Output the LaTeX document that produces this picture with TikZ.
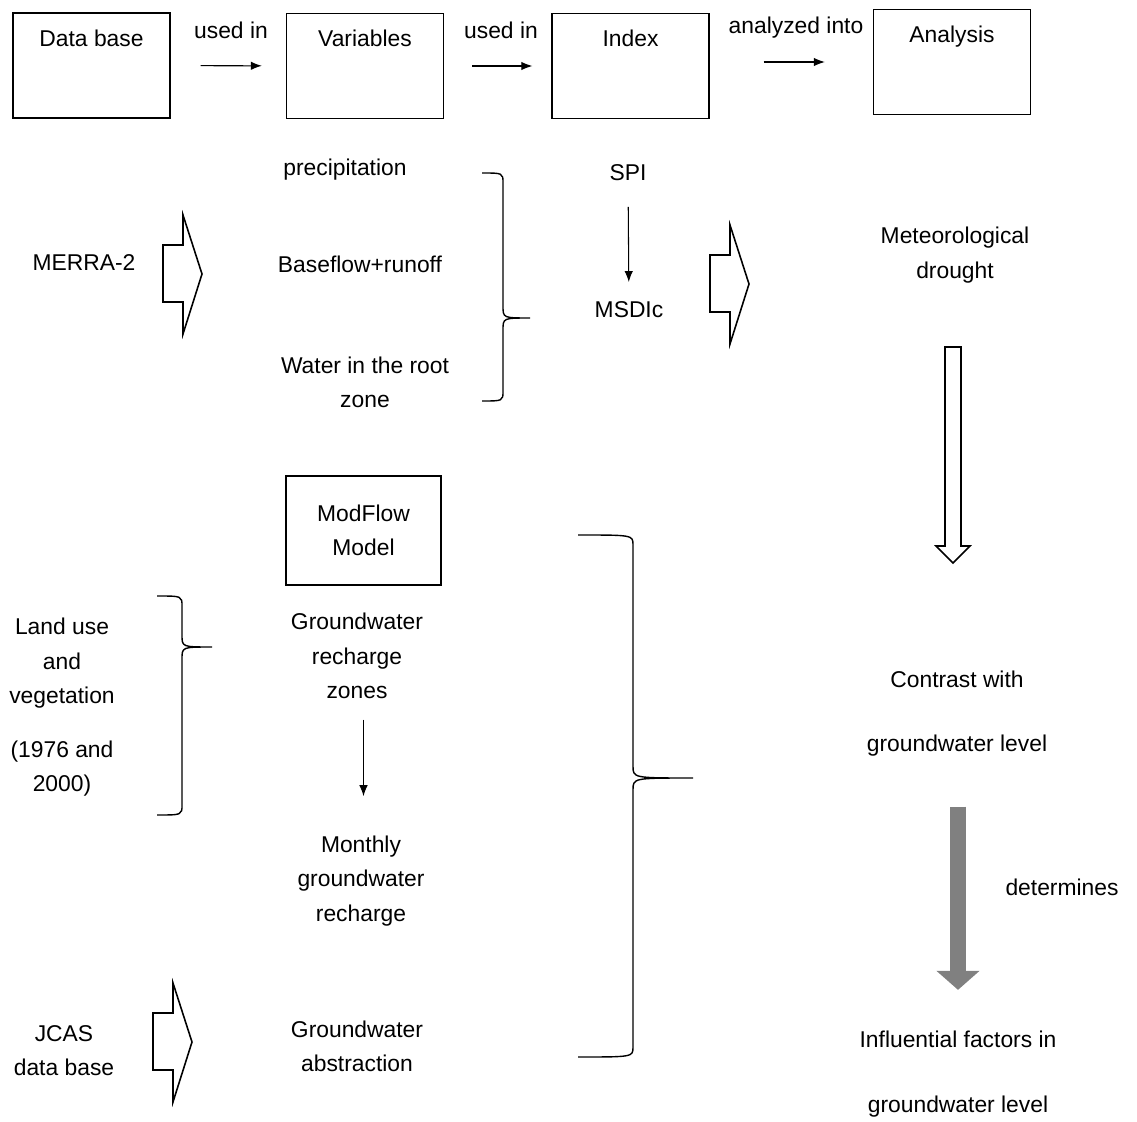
\documentclass[tikz,border=0pt]{standalone}
\usepackage{fontspec}
\setmainfont{Liberation Sans}
\usetikzlibrary{arrows.meta}

\begin{document}
\begin{tikzpicture}[
      x=0.02cm,y=-0.02cm,
      every node/.style={font=\fontsize{13}{19.5}\selectfont,align=center,inner sep=2pt},
      topbox/.style={draw,line width=0.8pt,minimum width=3.14cm,inner ysep=0pt,text height=0.66cm,text depth=1.44cm},
      modbox/.style={draw,line width=0.8pt,minimum width=3.1cm,minimum height=2.18cm},
      arr/.style={-{Latex[length=2.2mm,width=1.7mm]},semithick},
      hollow/.style={draw,line width=0.9pt,fill=white},
      curly/.style={line width=0.8pt},
      bigarr/.style={-{Triangle[width=0.84cm,length=0.38cm]},line width=0.33cm,draw=black!50}
    ]
    \useasboundingbox (0,0) rectangle (1137,1122);
    \node[topbox] (db) at (91.5,65.5) {Data base};
    \node[topbox] (var) at (365,66) {Variables};
    \node[topbox] (idx) at (630.5,66) {Index};
    \node[topbox] (ana) at (952,62) {Analysis};
    \node (use1) at (231,30) {used in};
    \node (use2) at (501,30) {used in};
    \node (anl) at (796,28) {analyzed into};
    \draw[arr,shorten <=0.6cm,shorten >=0.48cm] (db) -- (var);
    \draw[arr,shorten <=0.56cm,shorten >=0.38cm] (var) -- (idx);
    \draw[arr,shorten <=1.08cm,shorten >=0.96cm] (idx.east |- ana) -- (ana);

    \node (prec) at (345,170) {precipitation};
    \node (bro) at (360,264) {Baseflow+runoff};
    \node (wrz) at (365,382) {Water in the root\\zone};
    \node (merra) at (84,263) {MERRA-2};
    \node (spi) at (628,173) {SPI};
    \node (msdi) at (629,310) {MSDIc};
    \node (met) at (955,255) {Meteorological\\drought};
    \draw[arr,shorten <=0.44cm,shorten >=0.32cm] (spi) -- (msdi);

    \foreach \xe/\xs/\xt/\ya/\yt/\yb in {482/503/530/173/318/401,157/182/212/596/647/815,578/633/693/535/778/1057}
      \draw[curly] (\xe,\ya) .. controls (\xs,\ya) .. (\xs,\ya+10) -- (\xs,\yt-12) .. controls (\xs,\yt) .. (\xt,\yt)
        .. controls (\xs,\yt) .. (\xs,\yt+12) -- (\xs,\yb-10) .. controls (\xs,\yb) .. (\xe,\yb);
    \foreach \ax/\ay in {163/215,710/225,153/983}
      \draw[hollow] (\ax,\ay+30) -- (\ax+20,\ay+30) -- (\ax+20,\ay) -- (\ax+39,\ay+59) -- (\ax+20,\ay+119)
        -- (\ax+20,\ay+87) -- (\ax,\ay+87) -- cycle;
    \draw[hollow] (945,347) -- (961,347) -- (961,546) -- (970,546) -- (953,563) -- (936,546) -- (945,546) -- cycle;

    \node[modbox] (mod) at (363.5,530.5) {ModFlow\\Model};
    \node (grz) at (357,656) {Groundwater\\recharge\\zones};
    \node (mgr) at (361,881) {Monthly\\groundwater\\recharge};
    \node (gwa) at (357,1046.5) {Groundwater\\abstraction};
    \node (luv) at (62,707.5) {Land use\\and\\vegetation\\[0.4cm](1976 and\\2000)};
    \node (jcas) at (64,1051) {JCAS\\data base};
    \draw[arr,shorten <=0.34cm,shorten >=0.72cm] (grz.south -| mod) -- (mgr.north -| mod);

    \node (cont) at (957,713.5) {Contrast with\\[0.58cm]groundwater level};
    \node (infl) at (958,1074) {Influential factors in\\[0.6cm]groundwater level};
    \node (det) at (1062,887) {determines};
    \draw[bigarr,shorten <=0.94cm,shorten >=0.75cm] (cont.south -| infl) -- (infl.north);
  \end{tikzpicture}
\end{document}
